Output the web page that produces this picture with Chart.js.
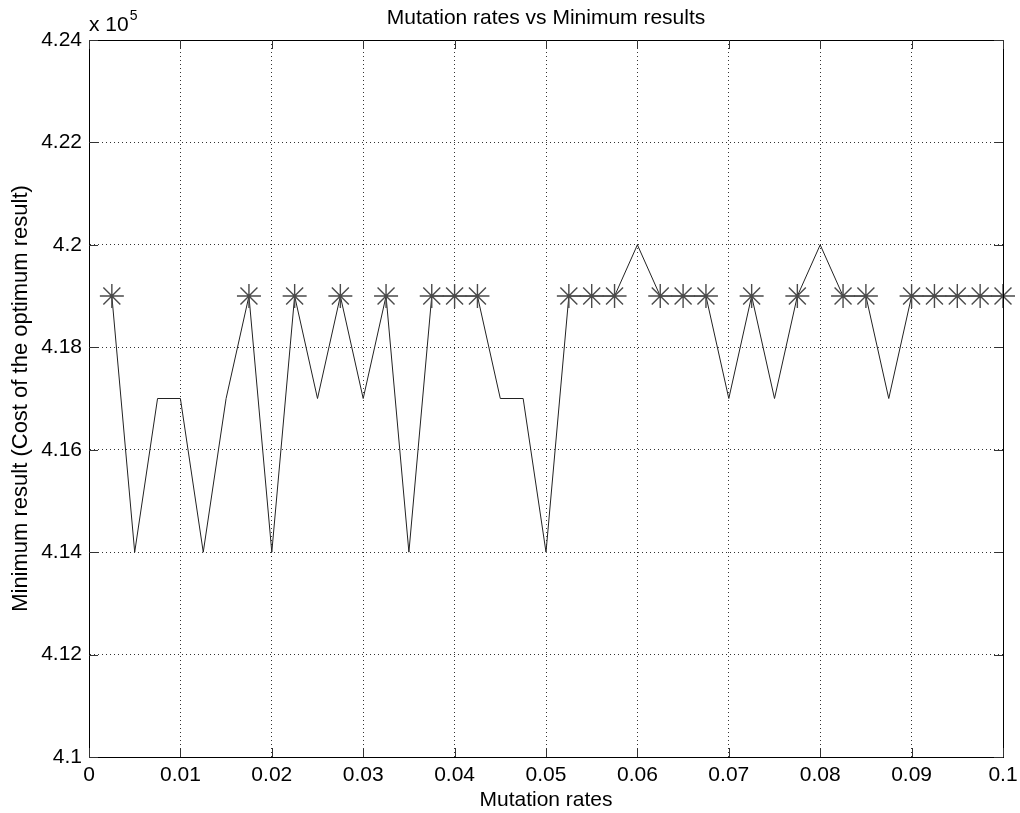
<!DOCTYPE html>
<html>
<head>
<meta charset="utf-8">
<title>Mutation rates vs Minimum results</title>
<script src="https://cdn.jsdelivr.net/npm/chart.js@4/dist/chart.umd.min.js"></script>
<style>
    html, body { margin: 0; padding: 0; background: #fff; }
    #chart { display: block; }
</style>
</head>
<body>
<canvas id="chart" width="1020" height="813"></canvas>
<script>
// values (cost in absolute units, axis shows x 10^5)
const mutationRates = [
    0.0025, 0.005, 0.0075, 0.01, 0.0125, 0.015, 0.0175, 0.02, 0.0225, 0.025,
    0.0275, 0.03, 0.0325, 0.035, 0.0375, 0.04, 0.0425, 0.045, 0.0475, 0.05,
    0.0525, 0.055, 0.0575, 0.06, 0.0625, 0.065, 0.0675, 0.07, 0.0725, 0.075,
    0.0775, 0.08, 0.0825, 0.085, 0.0875, 0.09, 0.0925, 0.095, 0.0975, 0.1
];
const minResults = [
    419000, 414000, 417000, 417000, 414000, 417000, 419000, 414000, 419000, 417000,
    419000, 417000, 419000, 414000, 419000, 419000, 419000, 417000, 417000, 414000,
    419000, 419000, 419000, 420000, 419000, 419000, 419000, 417000, 419000, 417000,
    419000, 420000, 419000, 419000, 417000, 419000, 419000, 419000, 419000, 419000
];

// the runs marked with '*' in the figure
const bestRates = [
    0.0025, 0.0175, 0.0225, 0.0275, 0.0325, 0.0375, 0.04, 0.0425, 0.0525, 0.055,
    0.0575, 0.0625, 0.065, 0.0675, 0.0725, 0.0775, 0.0825, 0.085, 0.09, 0.0925,
    0.095, 0.0975, 0.1
];
const bestResults = [
    419000, 419000, 419000, 419000, 419000, 419000, 419000, 419000, 419000, 419000,
    419000, 419000, 419000, 419000, 419000, 419000, 419000, 419000, 419000, 419000,
    419000, 419000, 419000
];

const xTicks = [0, 0.01, 0.02, 0.03, 0.04, 0.05, 0.06, 0.07, 0.08, 0.09, 0.1];
const yTicks = [410000, 412000, 414000, 416000, 418000, 420000, 422000, 424000];
const yExponent = 5;

const FONT = "Liberation Sans, Arial, sans-serif";

// MATLAB style box: frame on all four sides with inward tick marks + exponent label
const matlabBox = {
    id: 'matlabBox',
    afterLayout(chart) {
        // matlab centres the title over the axes, not the whole figure
        const t = chart.titleBlock;
        if (t) {
            t.left = chart.chartArea.left;
            t.right = chart.chartArea.right;
            t.width = t.right - t.left;
        }
    },
    afterDraw(chart) {
        const {ctx, chartArea: a, scales: {x, y}} = chart;
        ctx.save();
        ctx.strokeStyle = '#000';
        ctx.lineWidth = 1;
        ctx.beginPath();
        ctx.rect(Math.round(a.left) + 0.5, Math.round(a.top) + 0.5,
                 Math.round(a.right - a.left), Math.round(a.bottom - a.top));
        ctx.stroke();

        const len = 9;
        ctx.strokeStyle = '#333';
        ctx.beginPath();
        xTicks.forEach(v => {
            const px = Math.round(x.getPixelForValue(v)) + 0.5;
            ctx.moveTo(px, a.bottom); ctx.lineTo(px, a.bottom - len);
            ctx.moveTo(px, a.top); ctx.lineTo(px, a.top + len);
        });
        yTicks.forEach(v => {
            const py = Math.round(y.getPixelForValue(v)) + 0.5;
            ctx.moveTo(a.left, py); ctx.lineTo(a.left + len, py);
            ctx.moveTo(a.right, py); ctx.lineTo(a.right - len, py);
        });
        ctx.stroke();

        ctx.fillStyle = '#000';
        ctx.textBaseline = 'alphabetic';
        ctx.textAlign = 'left';
        ctx.font = '21px ' + FONT;
        ctx.fillText('x 10', a.left, 31);
        const w = ctx.measureText('x 10').width;
        ctx.font = '14px ' + FONT;
        ctx.fillText(String(yExponent), a.left + w + 1, 20);
        ctx.restore();
    }
};

const fmt = (v) => Number(v.toFixed(4)).toString();

new Chart(document.getElementById('chart'), {
    type: 'line',
    data: {
        datasets: [
            {
                label: 'Minimum result',
                data: mutationRates.map((r, i) => ({x: r, y: minResults[i]})),
                borderColor: '#222',
                borderWidth: 1,
                pointRadius: 0,
                tension: 0,
                order: 2
            },
            {
                label: 'Best result',
                data: bestRates.map((r, i) => ({x: r, y: bestResults[i]})),
                showLine: false,
                pointStyle: 'star',
                pointRadius: 12,
                pointBorderColor: '#4a4a4a',
                pointBorderWidth: 1.4,
                pointBackgroundColor: '#4a4a4a',
                clip: false,
                order: 1
            }
        ]
    },
    options: {
        responsive: false,
        animation: false,
        devicePixelRatio: 1,
        layout: { padding: { left: 0, right: 17, top: 0, bottom: 0 } },
        plugins: {
            legend: { display: false },
            tooltip: { enabled: false },
            title: {
                display: true,
                text: 'Mutation rates vs Minimum results',
                color: '#000',
                font: { family: FONT, size: 21, weight: 'normal' },
                padding: { top: 6, bottom: 8.8 }
            }
        },
        scales: {
            x: {
                type: 'linear',
                min: 0,
                max: 0.1,
                afterFit: (s) => { s.height = 56; s.paddingLeft = 0; s.paddingRight = 0; },
                afterBuildTicks: (s) => { s.ticks = xTicks.map(v => ({value: v})); },
                ticks: {
                    color: '#000',
                    padding: 6,
                    maxRotation: 0,
                    font: { family: FONT, size: 21 },
                    callback: fmt
                },
                grid: { color: '#333', lineWidth: 1, drawTicks: false },
                border: { display: true, color: '#000', dash: [1, 3] },
                title: {
                    display: true,
                    text: 'Mutation rates',
                    color: '#000',
                    font: { family: FONT, size: 21 },
                    padding: { top: 0, bottom: 0 }
                }
            },
            y: {
                type: 'linear',
                min: 410000,
                max: 424000,
                afterFit: (s) => { s.width = 89; },
                afterBuildTicks: (s) => { s.ticks = yTicks.map(v => ({value: v})); },
                ticks: {
                    color: '#000',
                    padding: 7,
                    font: { family: FONT, size: 21 },
                    callback: (v) => fmt(v / Math.pow(10, yExponent))
                },
                grid: { color: '#333', lineWidth: 1, drawTicks: false },
                border: { display: true, color: '#000', dash: [1, 3] },
                title: {
                    display: true,
                    text: 'Minimum result (Cost of the optimum result)',
                    color: '#000',
                    font: { family: FONT, size: 22 },
                    padding: { top: 8, bottom: 0 }
                }
            }
        }
    },
    plugins: [matlabBox]
});
</script>
</body>
</html>
